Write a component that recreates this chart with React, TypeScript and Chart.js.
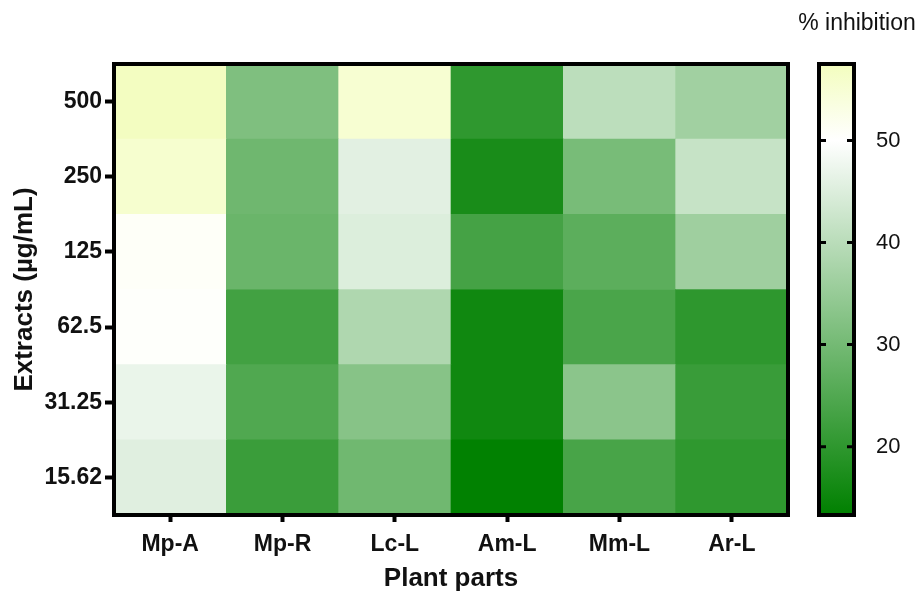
import React, { useEffect, useRef } from 'react';
import { Chart, registerables } from 'chart.js';

Chart.register(...registerables);

// ---- data ----
const plantParts = ['Mp-A', 'Mp-R', 'Lc-L', 'Am-L', 'Mm-L', 'Ar-L'];
// concentrations listed bottom to top (stack order)
const concentrations = ['15.62', '31.25', '62.5', '125', '250', '500'];
const inh15_62 = [45.5, 21.6, 29.4, 13.5, 23.7, 20.1];
const inh31_25 = [47.0, 24.8, 32.7, 15.6, 33.3, 21.5];
const inh62_5 = [50.5, 22.8, 38.5, 15.6, 24.0, 19.9];
const inh125 = [50.8, 28.6, 45.0, 23.2, 26.5, 36.2];
const inh250 = [55.5, 29.3, 45.8, 16.9, 30.6, 41.8];
const inh500 = [57.2, 31.6, 55.2, 20.1, 40.4, 36.5];
const rows = [inh15_62, inh31_25, inh62_5, inh125, inh250, inh500];
const colorbarTicks = [20, 30, 40, 50];
const scaleMin = 13.3;
const scaleMid = 50;
const scaleMax = 57.5;

const lowColor = [0, 128, 0];
const midColor = [255, 255, 255];
const highColor = [243, 253, 190];

function mix(a: number[], b: number[], t: number) {
  const c = a.map((v, i) => Math.round(v + (b[i] - v) * t));
  return `rgb(${c[0]},${c[1]},${c[2]})`;
}
function colorFor(v: number) {
  if (v <= scaleMid) {
    const t = Math.max(0, (v - scaleMin) / (scaleMid - scaleMin));
    return mix(lowColor, midColor, t);
  }
  const t = Math.min(1, (v - scaleMid) / (scaleMax - scaleMid));
  return mix(midColor, highColor, t);
}

const FONT = "'Liberation Sans', Arial, Helvetica, sans-serif";
const TEXT = '#111';

const heatPlugin = {
  id: 'heatDecor',
  afterDatasetsDraw(chart: any) {
    const { ctx, chartArea } = chart;
    ctx.save();
    ctx.strokeStyle = '#000';
    ctx.lineWidth = 4;
    ctx.strokeRect(chartArea.left, chartArea.top, chartArea.right - chartArea.left, chartArea.bottom - chartArea.top);
    ctx.restore();
  },
  afterDraw(chart: any) {
    const { ctx } = chart;
    const cb = chart.scales.cb;
    const x0 = 819;
    const x1 = 854;
    const yTop = cb.getPixelForValue(scaleMax);
    const yBot = cb.getPixelForValue(scaleMin);
    ctx.save();
    const g = ctx.createLinearGradient(0, yBot, 0, yTop);
    const midStop = (scaleMid - scaleMin) / (scaleMax - scaleMin);
    g.addColorStop(0, mix(lowColor, lowColor, 0));
    g.addColorStop(midStop, mix(midColor, midColor, 0));
    g.addColorStop(1, mix(highColor, highColor, 0));
    ctx.fillStyle = g;
    ctx.fillRect(x0, yTop, x1 - x0, yBot - yTop);
    ctx.strokeStyle = '#000';
    ctx.lineWidth = 4;
    ctx.strokeRect(x0, yTop, x1 - x0, yBot - yTop);
    ctx.lineWidth = 3;
    colorbarTicks.forEach((t) => {
      const y = cb.getPixelForValue(t);
      ctx.beginPath();
      ctx.moveTo(x0, y);
      ctx.lineTo(x0 + 7, y);
      ctx.moveTo(x1, y);
      ctx.lineTo(x1 - 7, y);
      ctx.stroke();
    });
    ctx.fillStyle = TEXT;
    ctx.font = `23px ${FONT}`;
    ctx.textAlign = 'center';
    ctx.textBaseline = 'middle';
    ctx.fillText('% inhibition', 857, 24);
    ctx.restore();
  },
};

export default function App() {
  const ref = useRef<HTMLCanvasElement>(null);
  useEffect(() => {
    if (!ref.current) return;
    const chart = new Chart(ref.current, {
      type: 'bar',
      data: {
        labels: plantParts,
        datasets: rows.map((vals, i) => ({
          label: concentrations[i],
          data: vals.map(() => 1),
          backgroundColor: vals.map(colorFor),
          borderWidth: 0,
          barPercentage: 1,
          categoryPercentage: 1,
          stack: 'heat',
        })),
      },
      options: {
        animation: false,
        responsive: true,
        maintainAspectRatio: false,
        devicePixelRatio: 1,
        layout: { padding: { top: 64, left: 0, right: 0, bottom: 0 } },
        plugins: { legend: { display: false }, tooltip: { enabled: false } },
        scales: {
          x: {
            type: 'category',
            stacked: true,
            grid: {
              display: true,
              offset: false,
              drawOnChartArea: false,
              drawTicks: true,
              tickLength: 7,
              tickWidth: 4,
              tickColor: '#000',
              color: '#000',
            },
            border: { display: false },
            ticks: { color: TEXT, font: { family: FONT, size: 23, weight: 'bold' }, padding: 9, maxRotation: 0, autoSkip: false },
            title: { display: true, text: 'Plant parts', color: TEXT, font: { family: FONT, size: 26, weight: 'bold', lineHeight: 1.0 }, padding: { top: 0, bottom: 0 } },
            afterFit: (s: any) => { s.height = 77; s.paddingLeft = 0; s.paddingRight = 0; },
          },
          y: {
            type: 'linear',
            stacked: true,
            min: 0,
            max: 6,
            afterBuildTicks: (s: any) => { s.ticks = concentrations.map((_, i) => ({ value: i + 0.5 })); },
            grid: {
              display: true,
              drawOnChartArea: false,
              drawTicks: true,
              tickLength: 9,
              tickWidth: 4,
              tickColor: '#000',
              color: '#000',
            },
            border: { display: false },
            ticks: {
              color: TEXT,
              font: { family: FONT, size: 23, weight: 'bold' },
              padding: 3,
              autoSkip: false,
              callback: (v: any) => concentrations[Math.floor(Number(v))],
            },
            title: { display: true, text: 'Extracts (µg/mL)', color: TEXT, font: { family: FONT, size: 26, weight: 'bold', lineHeight: 1.0 }, padding: { top: 12, bottom: 0 } },
            afterFit: (s: any) => { s.width = 114; s.paddingTop = 0; s.paddingBottom = 0; },
          },
          cb: {
            type: 'linear',
            axis: 'y',
            position: 'right',
            min: scaleMin,
            max: scaleMax,
            afterBuildTicks: (s: any) => { s.ticks = colorbarTicks.map((v) => ({ value: v })); },
            grid: { display: false, drawOnChartArea: false },
            border: { display: false },
            ticks: { color: TEXT, font: { family: FONT, size: 22 }, padding: 80, autoSkip: false },
            afterFit: (s: any) => { s.width = 133; s.paddingTop = 0; s.paddingBottom = 0; },
          },
        },
      } as any,
      plugins: [heatPlugin],
    });
    return () => chart.destroy();
  }, []);
  return (
    <div style={{ position: 'absolute', left: 0, top: 0, width: 921, height: 592, background: '#fff' }}>
      <canvas ref={ref} />
    </div>
  );
}
